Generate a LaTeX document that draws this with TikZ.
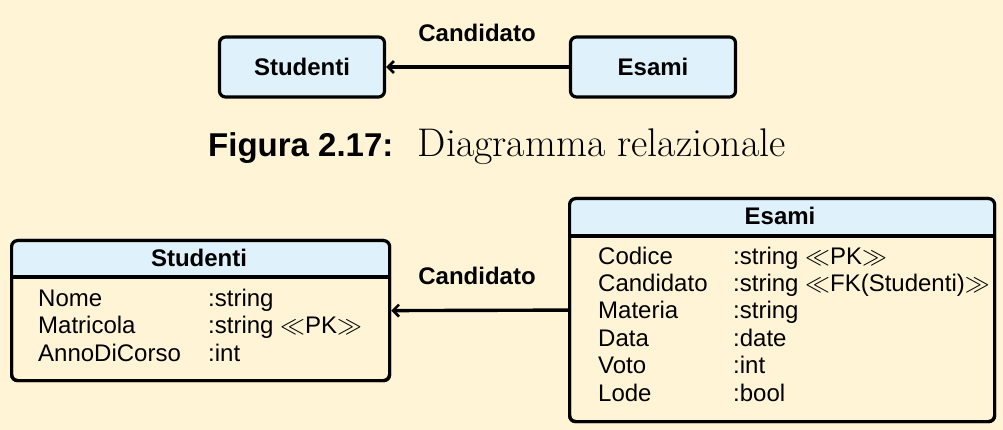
\documentclass[tikz,border=0pt]{standalone}
\usepackage{amsmath,amssymb}
\usepackage{fontspec}
\setsansfont{Liberation Sans}
\usetikzlibrary{positioning,arrows.meta}
\definecolor{sfondo}{HTML}{FFF5D6}
\definecolor{azzurro}{HTML}{DFF1FB}
\newcommand{\stereo}[1]{\ensuremath{\ll}#1\ensuremath{\gg}}

\tikzset{
  testo/.style={font=\sffamily\fontsize{24}{28}\selectfont, inner sep=0pt},
  grassetto/.style={testo, font=\sffamily\bfseries\fontsize{24}{28}\selectfont},
  entita/.style={draw, line width=3.2pt, rounded corners=6pt, fill=azzurro,
    minimum width=165pt, minimum height=60pt,
    font=\sffamily\bfseries\fontsize{24}{28}\selectfont},
  tabella/.style={draw, line width=3.2pt, rounded corners=6pt, inner sep=0pt},
  attributo/.style={testo, anchor=base west},
  freccia/.style={line width=3.4pt, -{Straight Barb[length=6pt,width=12pt,line width=2.6pt]}}
}

\begin{document}
\begin{tikzpicture}[x=1pt,y=-1pt]
\fill [sfondo] (0,0) rectangle (1003,430);
\useasboundingbox (0,0) rectangle (1003,430);

% diagramma relazionale
\node [entita] (studenti) at (302,67) {Studenti};
\node [entita] (esami) at (653,67) {Esami};
\draw [freccia] (esami) -- (studenti);
\node [grassetto] (cand1) at (477,33) {Candidato};

% didascalia
\node [inner sep=0pt, anchor=base west, font=\sffamily\bfseries\fontsize{33}{38}\selectfont] (figlab) at (208,157) {Figura 2.17:};
\node [inner sep=0pt, base right=24pt of figlab, font=\fontsize{40}{46}\selectfont] (figtxt) {Diagramma relazionale};

% tabella Studenti
\node [tabella, minimum width=378pt, minimum height=140pt, anchor=north west] (tstud) at (10,239) {};
\fill [azzurro] (tstud.west |- 0,277) [rounded corners=6pt] -- (tstud.north west) -- (tstud.north east) [sharp corners] -- (tstud.east |- 0,277) -- cycle;
\draw [line width=3.2pt] (tstud.west |- 0,277) -- (tstud.east |- 0,277);
\node [tabella, minimum width=378pt, minimum height=140pt, anchor=north west] at (10,239) {};
\node [grassetto] (hstud) at (199,258) {Studenti};
\foreach \nome/\tipo [count=\i] in {Nome/{:string}, Matricola/{:string \stereo{PK}}, AnnoDiCorso/{:int}} {
  \node [attributo] (ns\i) at (38,{306+27.5*(\i-1)}) {\nome};
  \node [attributo] (ts\i) at (208,{306+27.5*(\i-1)}) {\tipo};
}

% tabella Esami
\node [tabella, minimum width=425pt, minimum height=223pt, anchor=north west] (tesami) at (568,197) {};
\fill [azzurro] (tesami.west |- 0,236) [rounded corners=6pt] -- (tesami.north west) -- (tesami.north east) [sharp corners] -- (tesami.east |- 0,236) -- cycle;
\draw [line width=3.2pt] (tesami.west |- 0,236) -- (tesami.east |- 0,236);
\node [tabella, minimum width=425pt, minimum height=223pt, anchor=north west] at (568,197) {};
\node [grassetto] (hesami) at (780,216) {Esami};
\foreach \nome/\tipo [count=\i] in {Codice/{:string \stereo{PK}}, Candidato/{:string \stereo{FK(Studenti)}}, Materia/{:string}, Data/{:date}, Voto/{:int}, Lode/{:bool}} {
  \node [attributo] (ne\i) at (598,{264+27.4*(\i-1)}) {\nome};
  \node [attributo] (te\i) at (733,{264+27.4*(\i-1)}) {\tipo};
}

\draw [freccia] (tesami.west) -- (tstud.east);
\node [grassetto] (cand2) at (477,276) {Candidato};
\end{tikzpicture}
\end{document}
